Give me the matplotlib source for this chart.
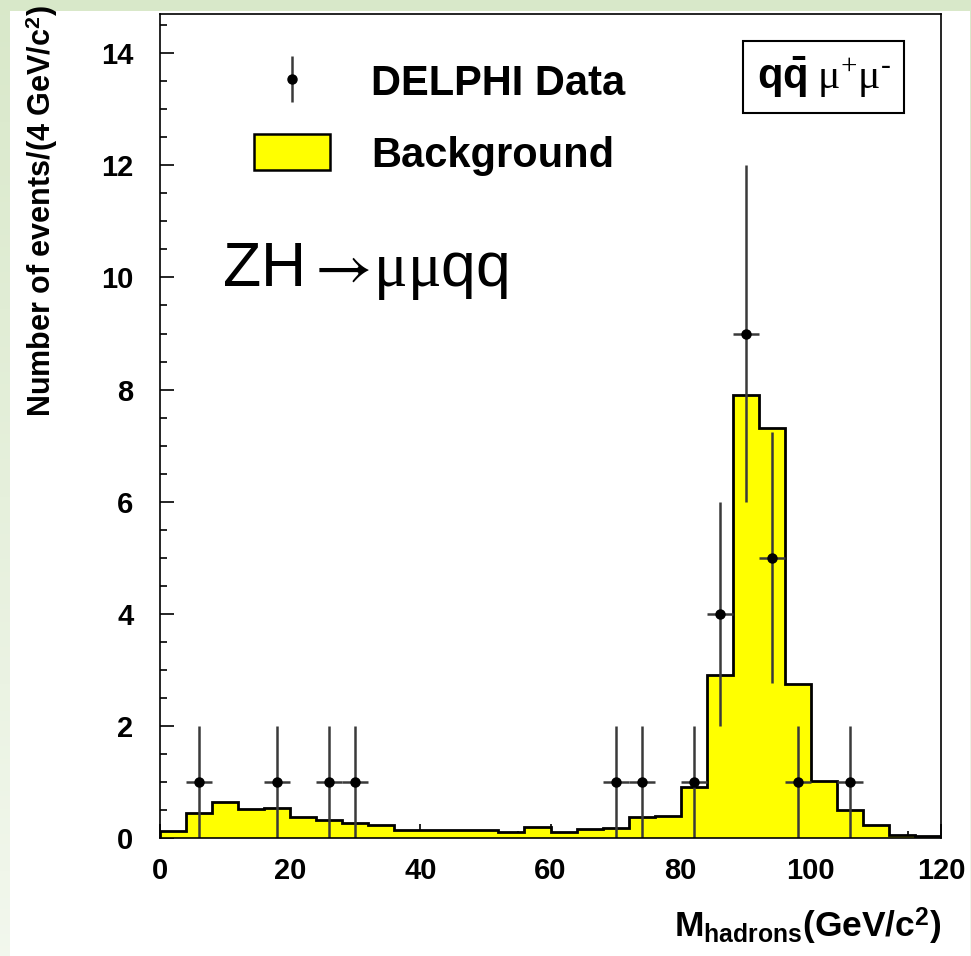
import matplotlib
matplotlib.use("Agg")
import matplotlib.pyplot as plt
import numpy as np
from matplotlib.lines import Line2D
from matplotlib.patches import Patch, Rectangle
from matplotlib.ticker import MultipleLocator

plt.rcParams['font.family'] = ['Liberation Sans', 'DejaVu Sans']
plt.rcParams['mathtext.fontset'] = 'custom'
plt.rcParams['mathtext.rm'] = 'Liberation Serif'
plt.rcParams['mathtext.it'] = 'Liberation Serif:italic'
plt.rcParams['mathtext.bf'] = 'Liberation Sans:bold'
plt.rcParams['mathtext.sf'] = 'STIXGeneral'

# hadronic mass histogram, 4 GeV bins from 0 to 120
bin_width = 4
edges = np.arange(0, 120 + bin_width, bin_width)
background = [0.12, 0.44, 0.64, 0.51, 0.54, 0.37, 0.33, 0.27, 0.23, 0.14,
              0.15, 0.15, 0.14, 0.10, 0.20, 0.11, 0.16, 0.18, 0.37, 0.40,
              0.91, 2.90, 7.91, 7.32, 2.75, 1.01, 0.50, 0.24, 0.05, 0.03]

# DELPHI candidates (bin centre, events)
data_mass = [6, 18, 26, 30, 70, 74, 82, 86, 90, 94, 98, 106]
data_counts = [1, 1, 1, 1, 1, 1, 1, 4, 9, 5, 1, 1]

xticks = [0, 20, 40, 60, 80, 100, 120]
yticks = [0, 2, 4, 6, 8, 10, 12, 14]

W, H = 971, 956
fig = plt.figure(figsize=(W / 100, H / 100), dpi=100)

# pale green slide frame behind the plot
grad = np.linspace(0, 1, H)[:, None, None]
top_col = np.array([0.85, 0.91, 0.79])
bot_col = np.array([0.95, 0.97, 0.93])
bg = np.ones((H, W, 3)) * (top_col * (1 - grad) + bot_col * grad)
fig.figimage(bg, 0, 0, zorder=-2)
fig.add_artist(Rectangle((10 / W, 0), 960 / W, 945 / H, transform=fig.transFigure,
                         facecolor='white', edgecolor='none', zorder=-1))

ax = fig.add_axes([160 / W, 118 / H, 781 / W, 824 / H])
ax.set_facecolor('white')

ax.stairs(background, edges, baseline=0, fill=True, facecolor='#ffff00',
          edgecolor='black', linewidth=2.0, zorder=2)

ax.errorbar(data_mass, data_counts, yerr=np.sqrt(data_counts), xerr=bin_width / 2,
            fmt='o', color='black', ecolor='#3a3a3a', ms=6.5, elinewidth=1.8,
            capsize=0, zorder=3)

ax.set_xlim(0, 120)
ax.set_ylim(0, 14.7)
ax.set_xticks(xticks)
ax.set_yticks(yticks)
ax.xaxis.set_minor_locator(MultipleLocator(5))
ax.yaxis.set_minor_locator(MultipleLocator(0.5))
ax.tick_params(which='both', direction='in', top=False, right=False, width=1.2)
ax.tick_params(which='major', length=10)
ax.tick_params(which='minor', length=5)
ax.tick_params(axis='y', which='major', pad=19)
ax.tick_params(axis='x', which='major', pad=14)
for lab in ax.get_xticklabels() + ax.get_yticklabels():
    lab.set_fontsize(21)
    lab.set_fontweight('bold')
for sp in ax.spines.values():
    sp.set_linewidth(1.2)
    sp.set_zorder(4)

ax.set_ylabel(r'Number of events/(4 GeV/c$^{\mathbf{2}}$)', fontsize=22,
              fontweight='bold', loc='top')
ax.yaxis.set_label_coords(-0.128, 1.011)
ax.set_xlabel(r'M$_{\mathbf{hadrons}}$(GeV/c$^{\mathbf{2}}$)', fontsize=25.5,
              fontweight='bold', loc='right')
ax.xaxis.set_label_coords(1.0, -0.083)

# legend
h_data = (Line2D([], [], marker='|', ms=33, mew=1.8, color='#3a3a3a', ls='none'),
          Line2D([], [], marker='o', ms=6.5, color='black', ls='none'))
h_bkg = Patch(facecolor='#ffff00', edgecolor='black', linewidth=1.8)
ax.legend([h_data, h_bkg], ['DELPHI Data', 'Background'], loc='upper left',
          bbox_to_anchor=(0.12, 0.94), frameon=False, borderpad=0,
          borderaxespad=0, handlelength=1.82, handleheight=0.93,
          handletextpad=1.0, labelspacing=0.72,
          prop={'size': 30, 'weight': 'bold'})

ax.text(0.85, 0.9235, r'$\mathbf{q\bar{q}}\ \mathrm{\mu^{+}\mu^{\text{-}}}$',
        transform=ax.transAxes, ha='center', va='center', fontsize=30,
        bbox=dict(boxstyle='square,pad=0.32', facecolor='white',
                  edgecolor='black', linewidth=1.5))

ax.text(0.08, 0.687, r'ZH$\mathsf{\rightarrow\!}\mathrm{\mu\mu}$qq',
        transform=ax.transAxes, ha='left', va='center', fontsize=45)

fig.savefig('out.png', dpi=100, facecolor=fig.get_facecolor())
